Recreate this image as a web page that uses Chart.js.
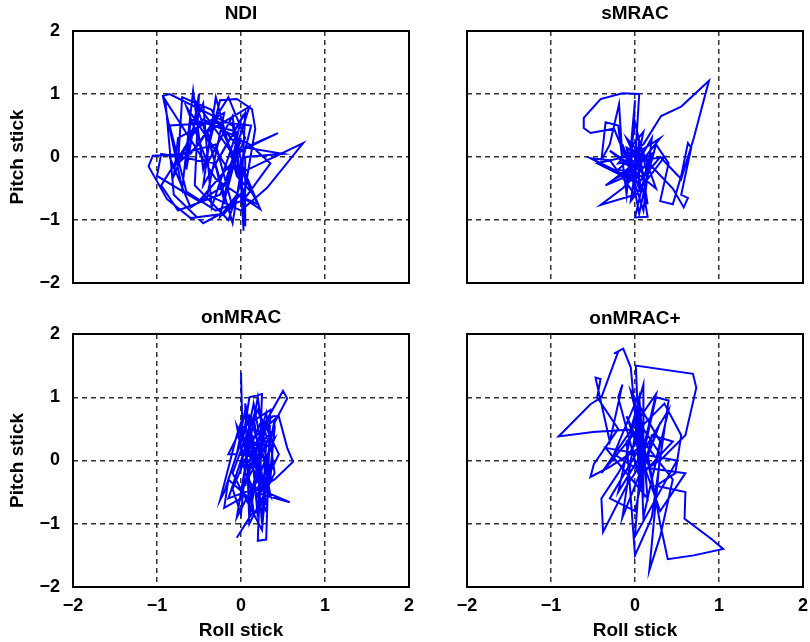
<!DOCTYPE html>
<html><head><meta charset="utf-8">
<script src="https://cdn.jsdelivr.net/npm/chart.js@4.4.0/dist/chart.umd.min.js"></script>
<style>
html,body{margin:0;padding:0;background:#fff;width:810px;height:642px;overflow:hidden}
canvas{position:absolute;left:0;top:0}
</style></head><body>
<canvas id="c0" width="810" height="642"></canvas>
<canvas id="c1" width="810" height="642"></canvas>
<canvas id="c2" width="810" height="642"></canvas>
<canvas id="c3" width="810" height="642"></canvas>
<script>
const panelTitles = ['NDI', 'sMRAC', 'onMRAC', 'onMRAC+'];
const tickValues = [-2, -1, 0, 1, 2];
const tickLabels = ['\u22122', '\u22121', '0', '1', '2'];
const xAxisTitle = 'Roll stick';
const yAxisTitle = 'Pitch stick';

const ndiRoll = [0.05,-0.1,-0.85,-0.93,-0.7,-0.57,-0.45,-0.25,-0.05,0.13,
  0.17,0.05,-0.2,-0.6,-0.88,-1.1,-1.05,-0.6,-0.3,0.0,
  0.44,0.05,0.5,0.05,0.05,0.0,0.74,0.31,0.0,-0.4,
  -0.2,-0.75,-0.8,-0.45,-0.35,-0.05,-0.6,-0.65,-0.5,-0.55,
  -0.15,0.0,0.03,0.0,0.23,-0.3,-0.9,-0.8,-0.45,-0.1,
  -0.3,-0.85,-0.6,-0.2,0.1,-0.4,-0.2,0.0,-0.15,-0.65,
  -0.4,-0.1,0.05,-0.05,-0.5,-1.0,-0.95,-0.3,0.0,-0.25,
  -0.05,0.2,0.0,-0.35,-0.7,-0.75,-0.5,-0.15,0.05,-0.25,
  -0.75,-0.95,-0.6,-0.45,0.1,0.35,0.05,-0.1,-0.55,-0.35,
  -0.1,0.02,0.12,-0.2,-0.85,-0.65,-0.3,0.0,0.05,-0.45,
  -0.3,-0.05,0.15];
const ndiPitch = [-0.3,0.5,1.0,0.97,-0.5,1.05,-0.2,0.9,0.92,0.76,
  0.45,-0.5,-0.9,-0.97,-0.67,-0.15,0.02,0.05,0.6,0.1,
  0.38,0.15,0.05,0.0,-1.1,-0.25,0.22,-0.49,-0.85,-0.6,
  0.7,0.3,-0.3,0.85,-0.8,0.4,0.6,-0.2,1.0,-0.45,
  -1.0,-0.4,-1.17,-0.1,-0.83,-0.35,0.9,-0.6,-1.05,-0.8,
  0.2,0.0,-0.8,-0.45,0.8,0.4,-0.7,0.3,-0.2,0.8,
  -0.1,0.65,-0.9,0.0,-0.7,-0.3,0.05,-0.1,0.6,-0.95,
  -0.6,-0.75,-0.2,0.75,0.95,-0.1,0.2,0.95,0.3,-0.6,
  -0.85,-0.45,0.3,0.6,0.2,-0.1,-0.65,0.05,0.9,0.1,
  -1.05,-0.05,0.5,0.55,0.5,-0.55,-0.85,-0.7,0.7,-0.45,
  0.95,-0.3,-0.6];

const smracRoll = [0.0,0.05,-0.15,-0.41,-0.61,-0.61,-0.53,-0.25,-0.05,0.0,
  -0.1,-0.2,-0.35,-0.4,-0.3,-0.19,-0.15,0.1,0.31,0.55,0.88,
  0.7,0.55,0.3,0.05,-0.53,-0.3,0.0,-0.41,-0.15,0.15,
  0.0,0.15,0.1,0.25,0.4,0.3,0.45,0.55,0.63,0.67,
  0.55,0.63,0.58,0.45,0.2,-0.1,0.1,-0.2,0.05,0.15,
  -0.05,0.3,0.0,-0.25,0.1,0.0,-0.45,0.05,
  0.05,-0.15,0.1,0.2,-0.1,0.0,0.15,-0.3,0.25,0.05,
  -0.05,0.35,-0.2,0.1,0.0,-0.35,0.2,0.05,-0.1,0.15];
const smracPitch = [-0.1,1.0,1.01,0.92,0.62,0.46,0.38,0.45,-0.2,0.9,
  -0.6,0.5,0.55,-0.05,0.2,0.84,0.0,0.2,0.65,0.8,1.21,
  0.3,-0.35,0.0,-0.4,-0.02,-0.05,-0.6,-0.76,-0.5,-0.1,
  -0.96,-0.95,-0.55,0.2,-0.1,-0.7,-0.75,-0.3,0.22,0.15,
  -0.6,-0.65,-0.8,-0.5,-0.15,0.3,-0.3,-0.2,0.1,-0.75,
  0.0,0.3,-0.2,-0.35,0.0,-0.4,-0.1,0.05,
  -0.5,0.2,-0.85,0.3,-0.4,0.55,-0.3,0.1,-0.5,0.25,
  -0.7,0.0,-0.1,0.4,-0.25,-0.45,0.05,-0.9,0.15,-0.05];

const onmracRoll = [0.0,0.02,0.1,0.25,0.2,0.1,0.05,-0.05,-0.15,0.0,
  0.35,0.3,0.2,0.25,0.5,0.55,0.4,0.35,0.1,-0.1,
  -0.2,-0.25,-0.05,0.0,0.15,-0.05,0.1,0.3,0.38,0.45,
  0.55,0.62,0.4,0.15,0.58,0.3,0.0,0.2,0.35,0.1,
  -0.15,-0.2,0.0,0.1,0.3,0.25,0.18,0.4,0.3,0.05,
  -0.05,0.15,0.4,0.2,0.1,0.0,-0.1,0.25,0.45,0.2,
  0.35,0.15,0.05,0.3,0.4,0.1,
  0.05,0.3,0.15,-0.1,0.25,0.35,0.0,0.2,0.3,-0.05,
  0.1,0.4,0.25,-0.15,0.05,0.35,0.15,0.0,0.28,0.1];
const onmracPitch = [1.39,0.3,1.0,1.05,-0.9,0.6,0.8,0.1,0.1,0.5,
  0.8,-1.25,-1.27,0.5,1.1,0.98,0.6,-0.3,0.7,-0.1,
  -0.5,-0.63,0.4,0.6,-0.8,-1.22,-0.9,0.6,0.7,0.7,
  0.2,-0.02,-0.3,-0.5,-0.66,-0.5,0.2,0.8,0.2,-0.6,
  -0.3,-0.75,-0.6,0.4,0.3,-1.0,0.2,0.5,-0.8,-0.2,
  0.55,0.0,0.35,-0.3,0.55,-0.85,-0.45,0.65,0.1,-0.6,
  -0.1,0.3,-0.4,0.75,-0.2,-1.0,
  0.9,-0.7,0.7,-0.2,-1.1,0.4,-0.5,1.0,0.0,-0.9,
  0.3,0.65,-0.4,-0.6,0.2,-0.55,0.9,-0.1,0.5,-0.7];

const onmracPlusRoll = [0.05,-0.05,-0.14,-0.25,-0.2,-0.4,-0.53,-0.91,-0.5,-0.05,
  0.1,0.1,-0.2,-0.15,-0.3,-0.47,-0.41,-0.45,-0.2,-0.49,
  -0.53,-0.3,0.05,0.01,0.69,0.73,0.6,0.3,0.05,0.25,
  0.4,0.2,0.0,-0.1,0.35,0.55,0.48,0.25,0.6,0.59,
  0.91,1.05,0.7,0.39,0.3,0.15,-0.1,-0.38,-0.4,-0.2,
  0.1,0.3,0.17,0.3,0.45,0.1,-0.3,0.0,0.2,0.45,
  0.1,-0.25,0.0,0.05,0.3,-0.15,-0.05,
  0.05,0.1,0.3,-0.05,0.2,0.4,-0.2,0.05,0.15,-0.35,
  0.5,0.0,0.1,-0.4,0.25,0.05,0.6,0.3,-0.1,0.1];
const onmracPlusPitch = [0.0,1.47,1.77,1.69,1.72,1.0,0.89,0.38,0.45,0.49,
  1.2,-0.5,1.0,1.2,0.3,1.31,1.29,1.0,0.5,-0.06,
  -0.26,-0.1,0.2,1.5,1.37,1.15,0.4,0.0,-0.2,1.0,
  0.95,-0.9,-1.5,0.3,0.9,0.4,-0.2,-0.4,-0.5,-0.92,
  -1.24,-1.4,-1.5,-1.56,-1.0,0.1,-0.4,-1.13,-0.6,-0.2,
  0.5,0.1,-1.74,-1.2,-0.3,0.3,-0.6,-0.8,0.4,0.3,
  -0.2,0.1,0.9,-0.3,0.6,-0.9,0.0,
  0.8,-0.9,0.3,1.1,-0.3,0.8,-0.5,1.0,-0.6,0.2,
  0.0,-1.2,0.6,-0.2,1.05,-0.1,-0.2,-0.8,0.7,0.1];

const seriesRoll = [ndiRoll, smracRoll, onmracRoll, onmracPlusRoll];
const seriesPitch = [ndiPitch, smracPitch, onmracPitch, onmracPlusPitch];

// layout (pixel boxes of each plot area)
const W = 810, H = 642;
const boxes = [
  {left:73, right:409, top:31, bottom:283, showX:false, showY:true, titleY:14},
  {left:467, right:803, top:31, bottom:283, showX:false, showY:false, titleY:14},
  {left:73, right:409, top:334, bottom:587, showX:true, showY:true, titleY:318},
  {left:467, right:803, top:334, bottom:587, showX:true, showY:false, titleY:319}
];
const FONT = "'Liberation Sans', Arial, Helvetica, sans-serif";

const framePlugin = {
  id: 'frame',
  afterDraw(chart, args, opts) {
    const {ctx, chartArea: a} = chart;
    ctx.save();
    ctx.strokeStyle = '#000';
    ctx.lineWidth = 2;
    ctx.strokeRect(a.left, a.top, a.right - a.left, a.bottom - a.top);
    ctx.fillStyle = '#000';
    ctx.font = 'bold 19px ' + FONT;
    ctx.textAlign = 'center';
    ctx.textBaseline = 'middle';
    ctx.fillText(opts.text, (a.left + a.right) / 2, opts.y);
    ctx.restore();
  }
};

boxes.forEach((b, i) => {
  const yW = b.showY ? b.left : 10;
  const padLeft = b.left - yW;
  const xH = b.showX ? (H - b.bottom) : 10;
  const padBottom = H - b.bottom - xH;
  const gridColor = (ctx) => (Math.abs(ctx.tick && ctx.tick.value) === 2 ? 'rgba(0,0,0,0)' : '#333');
  const data = seriesRoll[i].map((x, k) => ({x: x, y: seriesPitch[i][k]}));
  new Chart(document.getElementById('c' + i), {
    type: 'scatter',
    data: { datasets: [{
      data: data,
      showLine: true,
      borderColor: '#0000ff',
      backgroundColor: '#0000ff',
      borderWidth: 2,
      pointRadius: 0,
      tension: 0,
      fill: false
    }]},
    plugins: [framePlugin],
    options: {
      responsive: false,
      animation: false,
      devicePixelRatio: 1,
      events: [],
      layout: { padding: { left: padLeft, right: W - b.right, top: b.top, bottom: padBottom } },
      plugins: {
        legend: { display: false },
        tooltip: { enabled: false },
        title: { display: false },
        frame: { text: panelTitles[i], y: b.titleY }
      },
      scales: {
        x: {
          type: 'linear', min: -2, max: 2,
          afterBuildTicks: (s) => { s.ticks = tickValues.map(v => ({value: v})); },
          afterFit: (s) => { s.height = xH; s.paddingLeft = 0; s.paddingRight = 0; },
          ticks: {
            display: b.showX, padding: 8, color: '#000',
            font: { family: FONT, size: 18, weight: 'bold' },
            callback: (v) => tickLabels[tickValues.indexOf(v)],
            maxRotation: 0, autoSkip: false
          },
          grid: { color: gridColor, lineWidth: 1.5, drawTicks: false },
          border: { display: false, dash: [5, 4] },
          title: {
            display: b.showX, text: xAxisTitle, color: '#000',
            font: { family: FONT, size: 19, weight: 'bold' },
            padding: { top: 0, bottom: 0 }
          }
        },
        y: {
          type: 'linear', min: -2, max: 2,
          afterBuildTicks: (s) => { s.ticks = tickValues.map(v => ({value: v})); },
          afterFit: (s) => { s.width = yW; s.paddingTop = 0; s.paddingBottom = 0; },
          ticks: {
            display: b.showY, padding: 13, color: '#000',
            font: { family: FONT, size: 18, weight: 'bold' },
            callback: (v) => tickLabels[tickValues.indexOf(v)],
            autoSkip: false
          },
          grid: { color: gridColor, lineWidth: 1.5, drawTicks: false },
          border: { display: false, dash: [5, 4] },
          title: {
            display: b.showY, text: yAxisTitle, color: '#000',
            font: { family: FONT, size: 19, weight: 'bold' },
            padding: { top: 6.6, bottom: 0 }
          }
        }
      }
    }
  });
});
</script>
</body></html>
